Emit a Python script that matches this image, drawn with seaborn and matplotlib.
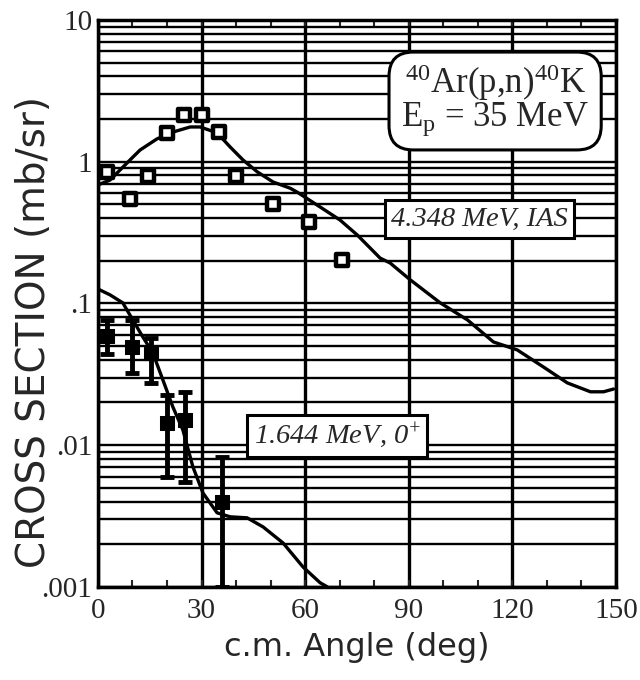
import numpy as np
import pandas as pd
import matplotlib
matplotlib.use("Agg")
import matplotlib.pyplot as plt
import seaborn as sns
from matplotlib.ticker import FixedLocator, LogLocator, NullFormatter

# 4.348 MeV IAS: measured cross sections (open squares)
ias_angle = [2.6, 9.3, 14.5, 20.0, 25.0, 30.0, 35.0, 40.0, 50.7, 61.0, 70.7]
ias_xs = [0.85, 0.55, 0.79, 1.60, 2.15, 2.15, 1.62, 0.79, 0.50, 0.376, 0.203]

# 4.348 MeV IAS: calculated curve
ias_calc_angle = [0.0, 3.5, 9.3, 12.2, 17.1, 21.7, 26.7, 29.6, 34.5, 38.3, 42.0,
                  46.1, 50.7, 55.7, 57.7, 64.3, 70.1, 75.1, 81.7, 84.6, 90.4,
                  99.1, 107.0, 114.5, 121.4, 129.0, 135.9, 142.6, 146.4, 149.3]
ias_calc_xs = [0.686, 0.743, 1.03, 1.21, 1.45, 1.62, 1.76, 1.76, 1.60, 1.27, 1.03,
               0.85, 0.72, 0.65, 0.61, 0.48, 0.388, 0.304, 0.209, 0.193, 0.147,
               0.101, 0.0765, 0.0535, 0.047, 0.0356, 0.0275, 0.0238, 0.0238, 0.0249]

# 1.644 MeV 0+: measured cross sections with error ranges (filled squares)
gs_angle = [2.6, 9.9, 15.4, 20.0, 25.2, 35.9]
gs_xs = [0.059, 0.0493, 0.0448, 0.0144, 0.0151, 0.0040]
gs_hi = [0.0765, 0.0765, 0.0571, 0.0226, 0.0238, 0.00826]
gs_lo = [0.044, 0.0324, 0.0275, 0.0060, 0.0055, 0.0010]

# 1.644 MeV 0+: calculated curve
gs_calc_angle = [0.0, 3.5, 7.2, 10.1, 13.0, 15.9, 18.8, 21.7, 24.6, 27.5, 30.4,
                 34.5, 38.3, 43.2, 47.8, 53.6, 59.4, 64.3, 66.4]
gs_calc_xs = [0.1265, 0.115, 0.101, 0.0765, 0.058, 0.0448, 0.0289, 0.0186, 0.0128,
              0.00703, 0.0046, 0.00333, 0.00312, 0.00307, 0.00265, 0.00204,
              0.00138, 0.00107, 0.001]

x_ticks = [0, 30, 60, 90, 120, 150]
y_ticks = [0.001, 0.01, 0.1, 1, 10]
y_tick_labels = [".001", ".01", ".1", "1", "10"]

sns.set_style("white")
plt.rcParams["mathtext.default"] = "regular"
serif = "Liberation Serif"

fig = plt.figure(figsize=(6.4, 6.8), dpi=100)
ax = fig.add_axes([0.153, 0.137, 0.8095, 0.8335])
ax.set_yscale("log")
ax.set_xlim(0, 150)
ax.set_ylim(0.001, 10)

# grid: minor log lines horizontally, 30-degree lines vertically
ax.yaxis.set_minor_locator(LogLocator(base=10, subs=np.arange(2, 10)))
ax.yaxis.set_minor_formatter(NullFormatter())
ax.grid(True, which="both", axis="y", color="black", linewidth=1.7)
ax.grid(True, which="major", axis="x", color="black", linewidth=2.4)
ax.set_axisbelow(True)

ias_curve = pd.DataFrame({"angle": ias_calc_angle, "xs": ias_calc_xs})
gs_curve = pd.DataFrame({"angle": gs_calc_angle, "xs": gs_calc_xs})
sns.lineplot(data=ias_curve, x="angle", y="xs", ax=ax, color="black", lw=2.4, zorder=3)
sns.lineplot(data=gs_curve, x="angle", y="xs", ax=ax, color="black", lw=2.4, zorder=3)

ias = pd.DataFrame({"angle": ias_angle, "xs": ias_xs})
sns.scatterplot(data=ias, x="angle", y="xs", ax=ax, marker="s", s=85,
                facecolor="white", edgecolor="black", linewidth=3.2, zorder=5)

gs = pd.DataFrame({"angle": gs_angle, "xs": gs_xs})
yerr = np.array([np.array(gs_xs) - np.array(gs_lo), np.array(gs_hi) - np.array(gs_xs)])
ax.errorbar(gs_angle, gs_xs, yerr=yerr, fmt="none", ecolor="black",
            elinewidth=3.5, capsize=5, capthick=3.5, zorder=4, clip_on=True)
sns.scatterplot(data=gs, x="angle", y="xs", ax=ax, marker="s", s=90,
                color="black", edgecolor="black", zorder=5)

# ticks and labels
ax.xaxis.set_major_locator(FixedLocator(x_ticks))
ax.xaxis.set_minor_locator(FixedLocator(np.arange(0, 151, 10)))
ax.set_xticklabels([str(t) for t in x_ticks], fontfamily=serif, fontsize=21)
ax.yaxis.set_major_locator(FixedLocator(y_ticks))
ax.set_yticklabels(y_tick_labels, fontfamily=serif, fontsize=21)
ax.tick_params(axis="x", which="both", direction="in", top=True, bottom=True,
               length=5, width=1.5, pad=8)
ax.tick_params(axis="y", which="major", direction="in", length=0, pad=4)
ax.tick_params(axis="y", which="minor", length=0)

for s in ax.spines.values():
    s.set_color("black")
    s.set_linewidth(2.5)

ax.set_xlabel("c.m. Angle (deg)", fontfamily="DejaVu Sans", fontsize=23, labelpad=6)
ax.set_ylabel("CROSS SECTION (mb/sr)", fontfamily="DejaVu Sans", fontsize=28,
              va="center")
ax.yaxis.set_label_coords(-0.124, 0.45)

# annotations
ax.text(115, 2.73, "$^{40}$Ar(p,n)$^{40}$K\nE$_p$ = 35 MeV", fontfamily=serif,
        fontsize=25, ha="center", va="center", linespacing=0.9, zorder=6,
        bbox=dict(boxstyle="round,pad=0.35,rounding_size=0.7", fc="white",
                  ec="black", lw=2.2))
ax.text(110.4, 0.394, "4.348 MeV, IAS", fontfamily=serif, style="italic",
        fontsize=20.5, ha="center", va="center", zorder=6,
        bbox=dict(boxstyle="square,pad=0.22", fc="white", ec="black", lw=2.2))
ax.text(69.3, 0.0116, "1.644 MeV, 0$^{+}$", fontfamily=serif, style="italic",
        fontsize=20.5, ha="center", va="center", zorder=6,
        bbox=dict(boxstyle="square,pad=0.22", fc="white", ec="black", lw=2.2))

fig.savefig("out.png", dpi=100, facecolor="white")
